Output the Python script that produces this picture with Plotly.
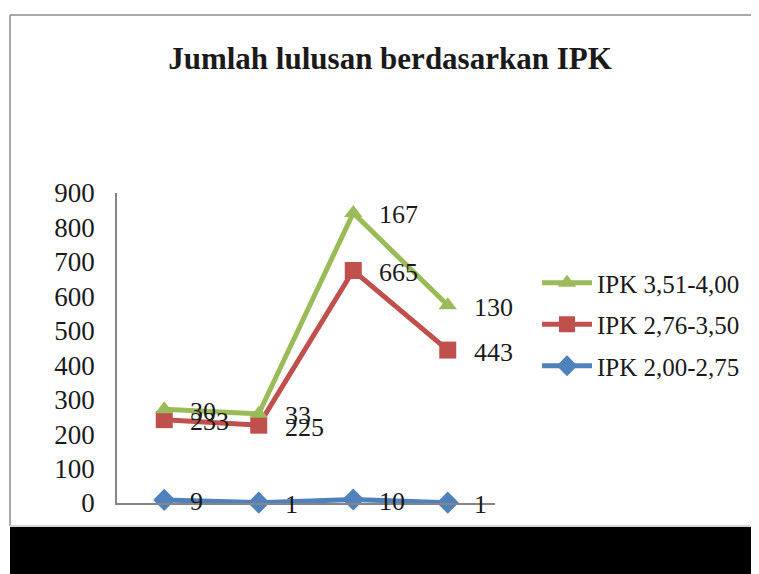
import numpy as np
import plotly.graph_objects as go

categories = ["1", "2", "3", "4"]
ipk_200_275 = [9, 1, 10, 1]
ipk_276_350 = [233, 225, 665, 443]
ipk_351_400 = [30, 33, 167, 130]

names = ["IPK 2,00-2,75", "IPK 2,76-3,50", "IPK 3,51-4,00"]
colors = ["#4F81BD", "#C0504D", "#9BBB59"]
symbols = ["diamond", "square", "triangle-up"]
msizes = [17, 17, 16]
ranks = [3, 2, 1]

OFF = 8  # page body margin
W, H = 759 - OFF, 574 - OFF
SERIF = "Liberation Serif, Times New Roman, serif"

# stacked line chart: each line sits on top of the ones below it
series = [ipk_200_275, ipk_276_350, ipk_351_400]
stacked = np.cumsum(np.array(series), axis=0)

fig = go.Figure()
labels = []
for i, vals in enumerate(series):
    fig.add_trace(go.Scatter(
        x=categories, y=stacked[i], name=names[i],
        mode="lines+markers",
        line=dict(color=colors[i], width=5),
        marker=dict(symbol=symbols[i], size=msizes[i], color=colors[i]),
        legendgroup=names[i], legendrank=ranks[i], cliponaxis=False,
    ))
    # value labels to the right of each point (category index on the x axis)
    for k, (yv, v) in enumerate(zip(stacked[i], vals)):
        labels.append(dict(x=k, y=yv, xref="x", yref="y", text=str(v),
                           showarrow=False, xanchor="left", yanchor="middle",
                           xshift=24, yshift=-2,
                           font=dict(family=SERIF, size=26, color="#1a1a1a")))

px = lambda x: (x - OFF) / W
py = lambda y: 1 - (y - OFF) / H

fig.update_layout(
    width=W, height=H,
    margin=dict(l=0, r=0, t=0, b=0, autoexpand=False),
    paper_bgcolor="white", plot_bgcolor="white",
    title=dict(text="<b>Jumlah lulusan berdasarkan IPK</b>",
               x=px(390), y=py(58), xanchor="center", yanchor="middle",
               font=dict(family=SERIF, size=31, color="#1a1a1a")),
    xaxis=dict(domain=[px(117), px(495)], range=[-0.5, 3.5], automargin=False,
               type="category",
               showline=True, linecolor="#868686", linewidth=1.5,
               showgrid=False, zeroline=False, showticklabels=False, ticks=""),
    yaxis=dict(domain=[py(503), py(193)], range=[0, 900], dtick=100, automargin=False,
               showline=True, linecolor="#868686", linewidth=1.5,
               showgrid=False, zeroline=False, ticks="", ticklabelstandoff=15,
               tickfont=dict(family=SERIF, size=27, color="#1a1a1a")),
    legend=dict(x=px(537), y=py(260), xanchor="left", yanchor="top",
                tracegroupgap=6, itemwidth=50,
                font=dict(family=SERIF, size=25, color="#1a1a1a"),
                bgcolor="rgba(0,0,0,0)"),
    annotations=labels,
    shapes=[
        dict(type="line", xref="paper", yref="paper",
             x0=px(10), x1=1, y0=py(15), y1=py(15),
             line=dict(color="#8c8c8c", width=1.5), layer="below"),
        dict(type="line", xref="paper", yref="paper",
             x0=px(10), x1=px(10), y0=py(526), y1=py(15),
             line=dict(color="#8c8c8c", width=1.5), layer="below"),
        dict(type="line", xref="paper", yref="paper",
             x0=px(10), x1=1, y0=py(526), y1=py(526),
             line=dict(color="#c8c8c8", width=1.5), layer="below"),
        dict(type="rect", xref="paper", yref="paper",
             x0=px(10), x1=1, y0=0, y1=py(527),
             fillcolor="black", line=dict(width=0), layer="above"),
    ],
)

fig.write_html("out.html")
